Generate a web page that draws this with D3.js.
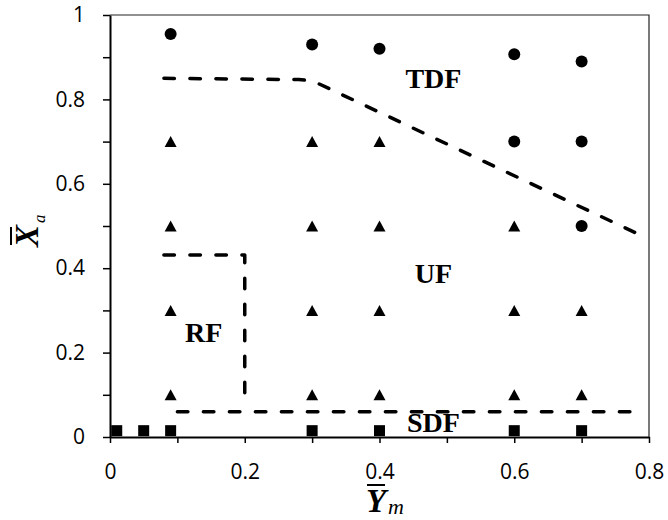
<!DOCTYPE html>
<html>
<head>
<meta charset="utf-8">
<script src="https://cdn.jsdelivr.net/npm/d3@7"></script>
<style>
  html, body { margin: 0; padding: 0; background: #fff; }
  svg { display: block; }
  .tick text { font-family: "Open Sans", sans-serif; font-size: 21px; fill: #000; }
  .region { font-family: "Liberation Serif", serif; font-weight: bold; font-size: 28px; fill: #000; }
</style>
</head>
<body>
<svg id="chart" width="668" height="520"></svg>
<script>
// data
let tdfPoints = [[0.09, 0.955], [0.3, 0.93], [0.4, 0.92], [0.6, 0.907], [0.7, 0.89], [0.6, 0.7], [0.7, 0.7], [0.7, 0.5]];
let ufPoints = [
	[0.09, 0.7], [0.09, 0.5], [0.09, 0.3], [0.09, 0.1],
	[0.3, 0.7], [0.3, 0.5], [0.3, 0.3], [0.3, 0.1],
	[0.4, 0.7], [0.4, 0.5], [0.4, 0.3], [0.4, 0.1],
	[0.6, 0.5], [0.6, 0.3], [0.6, 0.1],
	[0.7, 0.3], [0.7, 0.1]
];
let sdfPoints = [[0.01, 0.015], [0.05, 0.015], [0.09, 0.015], [0.3, 0.015], [0.4, 0.015], [0.6, 0.015], [0.7, 0.015]];

// boundary lines
let tdfBoundary = [[0.08, 0.85], [0.28, 0.847], [0.295, 0.845], [0.31, 0.837], [0.784, 0.481]];
let rfBoundary = [[0.08, 0.431], [0.2, 0.431], [0.2, 0.095]];
let sdfBoundary = [[0.1, 0.06], [0.78, 0.06]];

let regionLabels = [
	{text: 'TDF', x: 0.48, y: 0.827},
	{text: 'UF', x: 0.48, y: 0.365},
	{text: 'RF', x: 0.139, y: 0.225},
	{text: 'SDF', x: 0.48, y: 0.012}
];

let xTicks = [0, 0.1, 0.2, 0.3, 0.4, 0.5, 0.6, 0.7, 0.8];
let yTicks = [0, 0.1, 0.2, 0.3, 0.4, 0.5, 0.6, 0.7, 0.8, 0.9, 1];

let svg = d3.select('svg');
let margin = {top: 15, right: 19, bottom: 83, left: 110};
let width = +svg.attr('width') - margin.left - margin.right;
let height = +svg.attr('height') - margin.top - margin.bottom;

let x = d3.scaleLinear().domain([0, 0.8]).range([margin.left, margin.left + width]);
let y = d3.scaleLinear().domain([0, 1]).range([margin.top + height, margin.top]);

// only every other tick gets a label
function tickLabel(v) {
	return Math.round(v * 10) % 2 ? '' : String(+v.toFixed(1));
}

// frame (top and right)
svg.append('path')
	.attr('d', 'M' + x(0) + ',' + y(1) + 'H' + x(0.8) + 'V' + y(0))
	.attr('fill', 'none')
	.attr('stroke', '#222')
	.attr('stroke-width', 1.2);

let xAxis = svg.append('g')
	.attr('transform', 'translate(0,' + y(0) + ')')
	.call(d3.axisBottom(x).tickValues(xTicks).tickFormat(tickLabel).tickSize(6).tickPadding(21).tickSizeOuter(0));

let yAxis = svg.append('g')
	.attr('transform', 'translate(' + x(0) + ',0)')
	.call(d3.axisLeft(y).tickValues(yTicks).tickFormat(tickLabel).tickSize(7).tickPadding(18).tickSizeOuter(0));

svg.selectAll('.domain').attr('stroke', '#000').attr('stroke-width', 2);
svg.selectAll('.tick line').attr('stroke', '#000').attr('stroke-width', 1.5);

// dashed boundaries
let line = d3.line().x(d => x(d[0])).y(d => y(d[1]));

[tdfBoundary, rfBoundary, sdfBoundary].forEach(function (b) {
	svg.append('path')
		.attr('d', line(b))
		.attr('class', 'boundary');
});

svg.selectAll('.boundary')
	.attr('fill', 'none')
	.attr('stroke', '#000')
	.attr('stroke-width', 3.5)
	.attr('stroke-linecap', 'round')
	.attr('stroke-linejoin', 'round')
	.attr('stroke-dasharray', '10.5,15.5');

// markers
svg.append('g').selectAll('circle')
	.data(tdfPoints)
	.enter()
	.append('circle')
	.attr('cx', d => x(d[0]))
	.attr('cy', d => y(d[1]))
	.attr('r', 6)
	.attr('fill', '#000');

svg.append('g').selectAll('path')
	.data(ufPoints)
	.enter()
	.append('path')
	.attr('d', 'M0,-5.5L6,5.5L-6,5.5Z')
	.attr('transform', d => 'translate(' + x(d[0]) + ',' + y(d[1]) + ')')
	.attr('fill', '#000');

svg.append('g').selectAll('rect')
	.data(sdfPoints)
	.enter()
	.append('rect')
	.attr('x', d => x(d[0]) - 5.5)
	.attr('y', d => y(d[1]) - 5.5)
	.attr('width', 11)
	.attr('height', 11)
	.attr('fill', '#000');

// region names
svg.append('g').selectAll('text')
	.data(regionLabels)
	.enter()
	.append('text')
	.attr('class', 'region')
	.attr('x', d => x(d.x))
	.attr('y', d => y(d.y))
	.attr('text-anchor', 'middle')
	.text(d => d.text);

// axis titles
let serif = '"Liberation Serif", serif';

let xt = svg.append('g').attr('transform', 'translate(376,512)');
xt.append('text')
	.attr('text-anchor', 'middle')
	.style('font-family', serif).style('font-weight', 'bold').style('font-style', 'italic').style('font-size', '33px')
	.text('Y');
xt.append('line').attr('x1', -9).attr('x2', 9).attr('y1', -27).attr('y2', -27).attr('stroke', '#000').attr('stroke-width', 2);
xt.append('text')
	.attr('x', 12).attr('y', 2)
	.style('font-family', serif).style('font-style', 'italic').style('font-size', '22px')
	.text('m');

let yt = svg.append('g').attr('transform', 'translate(38,236) rotate(-90)');
yt.append('text')
	.attr('text-anchor', 'middle')
	.style('font-family', serif).style('font-weight', 'bold').style('font-style', 'italic').style('font-size', '33px')
	.text('X');
yt.append('line').attr('x1', -9).attr('x2', 9).attr('y1', -27).attr('y2', -27).attr('stroke', '#000').attr('stroke-width', 2);
yt.append('text')
	.attr('x', 13).attr('y', 7)
	.style('font-family', serif).style('font-style', 'italic').style('font-size', '17px')
	.text('a');
</script>
</body>
</html>
